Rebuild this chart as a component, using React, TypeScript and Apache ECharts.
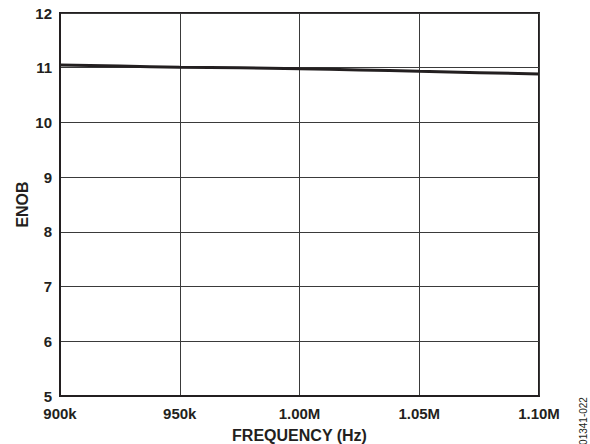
import React, { useEffect, useRef } from "react";
import * as echarts from "echarts";

const frequencyKHz = [900, 925, 950, 975, 1000, 1025, 1050, 1075, 1100];
const enobValues = [11.05, 11.03, 11.01, 11.0, 10.98, 10.96, 10.935, 10.91, 10.885];
const yTicks = [5, 6, 7, 8, 9, 10, 11, 12];
const xTickLabels: Record<number, string> = {
  900: "900k",
  950: "950k",
  1000: "1.00M",
  1050: "1.05M",
  1100: "1.10M",
};
const xAxisTitle = "FREQUENCY (Hz)";
const yAxisTitle = "ENOB";
const figureId = "01341-022";

const FONT = "'Liberation Sans', Arial, Helvetica, sans-serif";

export default function App() {
  const ref = useRef<HTMLDivElement>(null);
  useEffect(() => {
    document.body.style.margin = "0";
    if (!ref.current) return;
    const chart = echarts.init(ref.current, undefined, { renderer: "svg" });
    chart.setOption({
      animation: false,
      backgroundColor: "#ffffff",
      grid: {
        left: 60,
        right: 51,
        top: 13,
        bottom: 48,
        containLabel: false,
        outerBoundsMode: "none",
        show: true,
        borderColor: "#231f20",
        borderWidth: 2,
        backgroundColor: "transparent",
      },
      xAxis: {
        type: "value",
        min: 900,
        max: 1100,
        interval: 50,
        name: xAxisTitle,
        nameLocation: "middle",
        nameGap: 31,
        nameMoveOverlap: false,
        nameTextStyle: { fontFamily: FONT, fontWeight: "bold", fontSize: 16, color: "#231f20" },
        axisLine: { show: true, lineStyle: { color: "#231f20", width: 2 } },
        axisTick: { show: false },
        axisLabel: {
          fontFamily: FONT,
          fontWeight: "bold",
          fontSize: 15,
          color: "#231f20",
          margin: 10,
          formatter: (v: number) => xTickLabels[v] ?? "",
        },
        splitLine: { show: true, lineStyle: { color: "#3a3a3a", width: 1 } },
      },
      yAxis: {
        type: "value",
        min: yTicks[0],
        max: yTicks[yTicks.length - 1],
        interval: 1,
        name: yAxisTitle,
        nameLocation: "middle",
        nameGap: 30,
        nameMoveOverlap: false,
        nameRotate: 90,
        nameTextStyle: { fontFamily: FONT, fontWeight: "bold", fontSize: 16, color: "#231f20" },
        axisLine: { show: true, lineStyle: { color: "#231f20", width: 2 } },
        axisTick: { show: false },
        axisLabel: {
          fontFamily: FONT,
          fontWeight: "bold",
          fontSize: 15,
          color: "#231f20",
          margin: 8,
        },
        splitLine: { show: true, lineStyle: { color: "#3a3a3a", width: 1 } },
      },
      series: [
        {
          type: "line",
          data: frequencyKHz.map((f, i) => [f, enobValues[i]]),
          symbol: "none",
          smooth: true,
          lineStyle: { color: "#231f20", width: 3 },
          z: 5,
        },
      ],
      graphic: [
        {
          type: "text",
          x: 583,
          y: 421,
          rotation: Math.PI / 2,
          style: {
            text: figureId,
            fontFamily: FONT,
            fontSize: 10,
            fill: "#231f20",
            textAlign: "center",
            textVerticalAlign: "middle",
          },
        },
      ],
    });
    return () => chart.dispose();
  }, []);
  return <div ref={ref} style={{ width: 590, height: 444 }} />;
}
